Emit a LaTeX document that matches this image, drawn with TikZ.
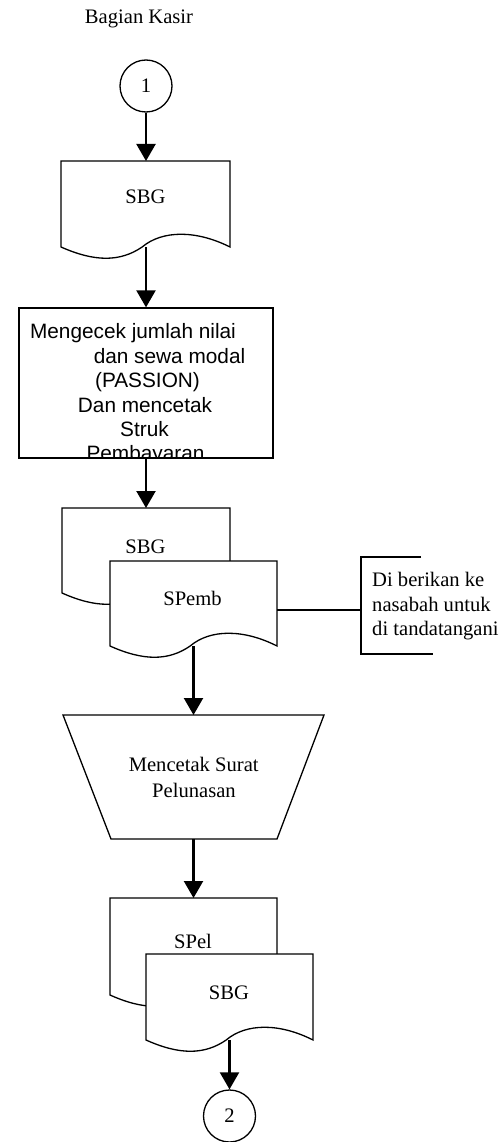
\documentclass[tikz,border=0pt]{standalone}
\usepackage{fontspec}
\setmainfont{Liberation Serif}
\newfontfamily\arialf{Liberation Sans}
\usetikzlibrary{arrows.meta}
\newcommand{\tmf}{\fontsize{20.6}{25}\selectfont}
\newcommand{\arf}{\arialf\fontsize{20.8}{24.4}\selectfont}
\newcommand{\docshape}[4]{%
  \pgfmathsetmacro{\docw}{#3-#1}%
  \draw[docline] (#1,#2) -- (#3,#2) -- (#3,#4)
    .. controls ({#3-0.2*\docw},{#4-17}) and ({#3-0.4*\docw},{#4-17}) .. ({#1+0.48*\docw},#4)
    .. controls ({#1+0.35*\docw},{#4+15}) and ({#1+0.2*\docw},{#4+15}) .. (#1,#4) -- cycle;}
\begin{document}
\begin{tikzpicture}[x=1pt,y=-1pt,
  docline/.style={line width=1.3pt, fill=white},
  arr/.style={line width=2.2pt, -{Triangle[length=17pt,width=19pt]}},
  link/.style={line width=2pt},
  conn/.style={circle, draw, line width=1.3pt, minimum size=52pt, inner sep=0pt, font=\tmf},
  txt/.style={anchor=base, inner sep=0pt, font=\tmf},
  atxt/.style={anchor=base, inner sep=0pt, font=\arf}]
\useasboundingbox[fill=white] (0,0) rectangle (503,1142);

% title
\node[txt] (title) at (139,24) {Bagian Kasir};

% connector 1
\node[conn] (c1) at (146,86) {1};

% document SBG 1
\docshape{61}{161}{230}{247}
\node[txt] (sbg1) at (145.5,204) {SBG};
\coordinate (d1top) at (146,161);
\coordinate (d1bot) at (146,247);

% process box
\node[draw, line width=1.3pt, minimum width=254pt, minimum height=150pt, inner sep=0pt] (proc) at (146,383) {};
\begin{scope}
  \clip (19,308) rectangle (273,458);
  \node[atxt] (p1) at (133,338) {Mengecek jumlah nilai};
  \node[atxt] (p2) at (169.5,363) {dan sewa modal};
  \node[atxt] (p3) at (147.5,387) {(PASSION)};
  \node[atxt] (p4) at (145,412) {Dan mencetak};
  \node[atxt] (p5) at (144.5,436) {Struk};
  \node[atxt] (p6) at (145.5,460) {Pembayaran};
\end{scope}
\draw[line width=1.3pt] (proc.north west) rectangle (proc.south east);

% stacked docs SBG / SPemb
\docshape{62}{508}{230}{593}
\node[txt] (sbg2) at (145.5,553) {SBG};
\coordinate (d2top) at (146,508);
\docshape{110}{561}{277}{646}
\node[txt] (spemb) at (192.5,605) {SPemb};
\coordinate (d3bot) at (193.5,646);
\coordinate (d3right) at (277,610);

% annotation bracket
\coordinate (brmid) at (361,610);
\draw[link] (421,557) -- (361,557) -- (361,654) -- (433,654);
\node[txt, anchor=base west] (n1) at (372,586) {Di berikan ke};
\node[txt, anchor=base west] (n2) at (372,611) {nasabah untuk};
\node[txt, anchor=base west] (n3) at (372,635) {di tandatangani};
\draw[link] (d3right) -- (brmid);

% trapezoid manual operation
\draw[line width=1.3pt] (63,715) -- (324,715) -- (277,839) -- (111,839) -- cycle;
\coordinate (trtop) at (193.5,715);
\coordinate (trbot) at (193.5,839);
\node[txt] (m1) at (193.7,771) {Mencetak Surat};
\node[txt] (m2) at (194,797) {Pelunasan};

% stacked docs SPel / SBG
\docshape{110}{898}{277}{995}
\node[txt] (spel) at (193,948) {SPel};
\coordinate (d4top) at (193.5,898);
\docshape{146}{954}{313}{1040}
\node[txt] (sbg3) at (229,999) {SBG};
\coordinate (d5bot) at (229.5,1040);

% connector 2
\node[conn] (c2) at (229.5,1116) {2};

% arrows
\draw[arr] (c1.south) -- (d1top);
\draw[arr] (d1bot) -- (proc.north);
\draw[arr] (proc.south) -- (d2top);
\draw[arr] (d3bot) -- (trtop);
\draw[arr] (trbot) -- (d4top);
\draw[arr] (d5bot) -- (c2.north);
\end{tikzpicture}
\end{document}
